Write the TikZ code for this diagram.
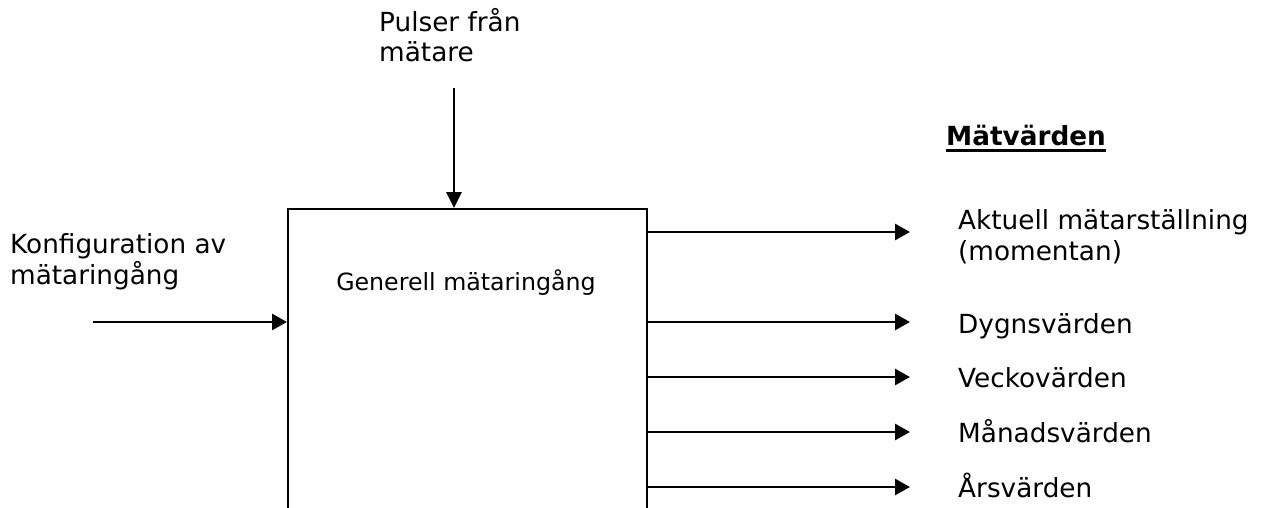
\documentclass[tikz,border=0pt]{standalone}
\usepackage{fontspec}
\setmainfont{DejaVu Sans}
\usetikzlibrary{arrows.meta}
\begin{document}
\begin{tikzpicture}[x=1pt,y=-1pt,
  lbl/.style={inner sep=0pt,anchor=base west,align=left,
    font=\fontsize{26.3}{30.5}\selectfont},
  boxlbl/.style={inner sep=0pt,anchor=base,
    font=\fontsize{23.7}{28}\selectfont},
  arr/.style={line width=2.8pt,-{Triangle[length=15pt,width=16pt]}},
  blockbox/.style={draw,line width=2.2pt,minimum width=359pt,minimum height=340pt,
    anchor=north west,inner sep=0pt}]
\useasboundingbox (0,0) rectangle (1265,508);
\clip (0,0) rectangle (1265,508);

% central block, running off the lower edge
\node[blockbox] (box) at (287,208) {};
\node[boxlbl] (boxtext) at (466,290) {Generell mätaringång};

% input from the meter (base anchor sits on the last line)
\node[lbl] (puls) at (379,62) {Pulser från\\mätare};
\coordinate (pulsstart) at (454,88);
\draw[arr,-{Triangle[length=16pt,width=15pt]}] (pulsstart) -- (pulsstart |- box.north);

% configuration input
\node[lbl] (konf) at (10,284) {Konfiguration av\\mätaringång};
\coordinate (konfstart) at (93,322);
\draw[arr] (konfstart) -- (konfstart -| box.west);

% output heading
\node[lbl,font=\fontsize{26.3}{30.5}\selectfont\bfseries] (mv) at (946,145) {Mätvärden};
\draw[line width=2.2pt] ([yshift=-5.5pt]mv.base west) -- ([yshift=-5.5pt]mv.base east);

% outputs
\coordinate (o1) at (910,232);
\coordinate (o2) at (910,322);
\coordinate (o3) at (910,377);
\coordinate (o4) at (910,432);
\coordinate (o5) at (910,487);
\foreach \o in {o1,o2,o3,o4,o5}
  \draw[arr] (\o -| box.east) -- (\o);

\node[lbl] (l1) at (958,260) {Aktuell mätarställning\\(momentan)};
\node[lbl] (l2) at (958,333) {Dygnsvärden};
\node[lbl] (l3) at (958,387) {Veckovärden};
\node[lbl] (l4) at (958,442) {Månadsvärden};
\node[lbl] (l5) at (958,497) {Årsvärden};
\end{tikzpicture}
\end{document}
